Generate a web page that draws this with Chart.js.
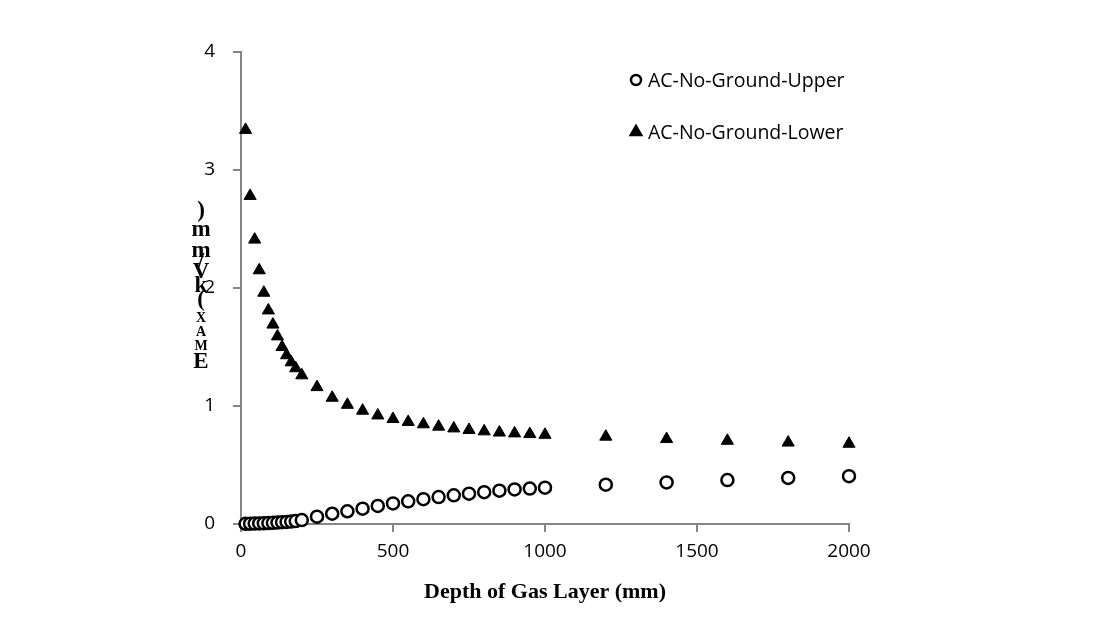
<!DOCTYPE html>
<html>
<head>
<meta charset="utf-8">
<script src="https://cdn.jsdelivr.net/npm/chart.js@4/dist/chart.umd.min.js"></script>
<style>
  html, body { margin: 0; padding: 0; background: #fff; }
  #wrap { width: 1109px; height: 622px; }
</style>
</head>
<body>
<div id="wrap"><canvas id="c"></canvas></div>
<script>
// Depth of gas layer (mm)
const depth = [15, 30, 45, 60, 75, 90, 105, 120, 135, 150, 165, 180, 200,
  250, 300, 350, 400, 450, 500, 550, 600, 650, 700, 750, 800, 850, 900, 950, 1000,
  1200, 1400, 1600, 1800, 2000];

// E_MAX (kV/mm)
const upper = [0.002, 0.003, 0.004, 0.005, 0.006, 0.008, 0.010, 0.012, 0.015, 0.018, 0.021, 0.025, 0.033,
  0.062, 0.087, 0.108, 0.130, 0.153, 0.174, 0.192, 0.210, 0.228, 0.243, 0.257, 0.270, 0.282, 0.293, 0.300, 0.308,
  0.333, 0.352, 0.372, 0.390, 0.405];
const lower = [3.34, 2.78, 2.41, 2.15, 1.96, 1.81, 1.69, 1.59, 1.50, 1.43, 1.37, 1.32, 1.26,
  1.16, 1.07, 1.01, 0.96, 0.92, 0.89, 0.865, 0.845, 0.825, 0.81, 0.797, 0.785, 0.775, 0.768, 0.762, 0.756,
  0.74, 0.72, 0.705, 0.69, 0.68];

const seriesNames = ['AC-No-Ground-Upper', 'AC-No-Ground-Lower'];
const xTicks = [0, 500, 1000, 1500, 2000];
const yTicks = [0, 1, 2, 3, 4];
const xTitle = 'Depth of Gas Layer (mm)';
// the y title comes out as stacked upright characters in the original
const yTitleParts = [
  { ch: 'E', small: false }, { ch: 'M', small: true }, { ch: 'A', small: true }, { ch: 'X', small: true },
  { ch: '(', small: false }, { ch: 'k', small: false }, { ch: 'V', small: false }, { ch: '/', small: false },
  { ch: 'm', small: false }, { ch: 'm', small: false }, { ch: ')', small: false },
];

const AXIS_GREY = '#868686';
const TICK_FONT = { family: 'Open Sans', size: 19 };

const toPoints = (ys) => depth.map((x, i) => ({ x, y: ys[i] }));

// legend drawn inside the plot, top right, one item per row
const insideLegend = {
  id: 'insideLegend',
  afterDraw(chart) {
    const { ctx } = chart;
    const items = [
      { text: seriesNames[0], style: 'circle', fill: '#fff', y: 80 },
      { text: seriesNames[1], style: 'triangle', fill: '#000', y: 132 },
    ];
    ctx.save();
    items.forEach((it) => {
      ctx.fillStyle = it.fill;
      ctx.strokeStyle = '#000';
      ctx.lineWidth = 2.5;
      Chart.helpers.drawPoint(ctx, { pointStyle: it.style, radius: it.style === 'circle' ? 5 : 6, borderWidth: 2.5 }, 636, it.y);
      ctx.fillStyle = '#000';
      ctx.font = '19.5px "Open Sans"';
      ctx.textBaseline = 'middle';
      ctx.textAlign = 'left';
      ctx.fillText(it.text, 648, it.y + 1);
    });
    ctx.restore();
  },
};

// stacked y title
const stackedTitle = {
  id: 'stackedTitle',
  afterDraw(chart) {
    const { ctx } = chart;
    const offsets = [362, 346, 332, 318, 300, 286, 272, 262, 251, 230, 211];
    ctx.save();
    ctx.fillStyle = '#000';
    ctx.textAlign = 'center';
    ctx.textBaseline = 'middle';
    yTitleParts.forEach((p, i) => {
      ctx.font = p.small ? 'bold 14px "Liberation Serif"' : 'bold 23px "Liberation Serif"';
      ctx.fillText(p.ch, 201, offsets[i]);
    });
    ctx.restore();
  },
};

new Chart(document.getElementById('c'), {
  type: 'scatter',
  data: {
    datasets: [
      {
        label: seriesNames[0],
        data: toPoints(upper),
        pointStyle: 'circle',
        pointRadius: 6,
        pointBorderWidth: 2.5,
        borderColor: '#000',
        backgroundColor: '#fff',
        clip: false,
      },
      {
        label: seriesNames[1],
        data: toPoints(lower),
        pointStyle: 'triangle',
        pointRadius: 7,
        pointBorderWidth: 1,
        borderColor: '#000',
        backgroundColor: '#000',
        clip: false,
      },
    ],
  },
  options: {
    responsive: true,
    maintainAspectRatio: false,
    animation: false,
    layout: { padding: { left: 0, right: 260, top: 52, bottom: 0 } },
    plugins: {
      legend: { display: false },
      tooltip: { enabled: false },
    },
    scales: {
      x: {
        type: 'linear',
        min: 0,
        max: 2000,
        afterBuildTicks: (s) => { s.ticks = xTicks.map((v) => ({ value: v })); },
        afterFit: (s) => { s.height = 98; },
        border: { color: AXIS_GREY, width: 2 },
        grid: { drawOnChartArea: false, color: AXIS_GREY, lineWidth: 2, tickLength: 8 },
        ticks: { color: '#000', font: TICK_FONT, padding: 8, maxRotation: 0, callback: (v) => String(v) },
        title: {
          display: true,
          text: xTitle,
          color: '#000',
          font: { family: 'Liberation Serif', size: 22, weight: 'bold' },
          padding: { top: 4, bottom: 16 },
        },
      },
      y: {
        type: 'linear',
        min: 0,
        max: 4,
        afterBuildTicks: (s) => { s.ticks = yTicks.map((v) => ({ value: v })); },
        afterFit: (s) => { s.width = 241; },
        border: { color: AXIS_GREY, width: 2 },
        grid: { drawOnChartArea: false, color: AXIS_GREY, lineWidth: 2, tickLength: 8 },
        ticks: { color: '#000', font: TICK_FONT, padding: 18 },
      },
    },
  },
  plugins: [insideLegend, stackedTitle],
});
</script>
</body>
</html>
